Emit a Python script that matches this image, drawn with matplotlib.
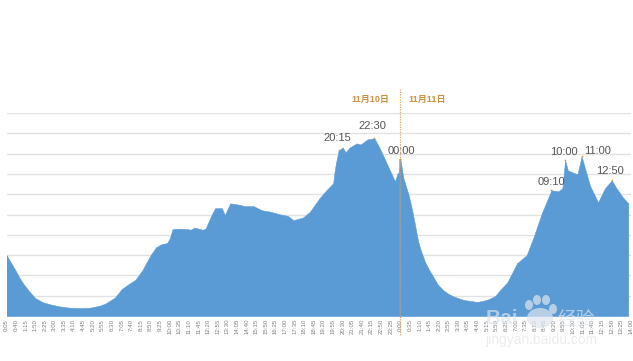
import matplotlib
matplotlib.use('Agg')
import matplotlib.pyplot as plt
from matplotlib.patches import Ellipse
import numpy as np

plt.rcParams['font.family'] = ['Liberation Sans', 'Noto Sans CJK SC', 'DejaVu Sans']

# minutes counted from 00:00 on 11/10
minutes = [5, 20, 35, 55, 70, 90, 110, 135, 165, 200, 235, 275, 310, 345, 365, 400, 425, 450, 475, 500,
           530, 550, 570, 590, 600, 610, 630, 665, 675, 690, 720, 730, 755, 765, 790, 800, 820, 845, 875, 905,
           935, 965, 1000, 1030, 1050, 1085, 1110, 1145, 1170, 1195, 1200, 1205, 1215, 1230, 1240, 1255, 1280,
           1295, 1320, 1345, 1365, 1390, 1420, 1430, 1435, 1440, 1450, 1470, 1485, 1505, 1515, 1530, 1545, 1560,
           1575, 1595, 1610, 1630, 1670, 1720, 1755, 1785, 1800, 1830, 1865, 1900, 1925, 1955, 1990, 2015, 2030,
           2040, 2050, 2085, 2100, 2130, 2160, 2185, 2210, 2225, 2250, 2270]
values = [3.00, 2.65, 2.31, 1.82, 1.52, 1.18, 0.88, 0.69, 0.57, 0.47, 0.41, 0.39, 0.41, 0.51, 0.61, 0.91, 1.33, 1.57, 1.79, 2.26,
          3.00, 3.39, 3.54, 3.59, 3.83, 4.28, 4.30, 4.28, 4.25, 4.35, 4.25, 4.30, 5.06, 5.31, 5.31, 4.96, 5.55, 5.50, 5.41, 5.41,
          5.21, 5.14, 5.01, 4.93, 4.72, 4.85, 5.13, 5.80, 6.19, 6.54, 7.08, 7.52, 8.16, 8.30, 8.06, 8.30, 8.50,
          8.45, 8.70, 8.75, 8.26, 7.52, 6.63, 7.03, 7.08, 7.71, 6.83, 5.95, 5.06, 3.64, 3.20, 2.65, 2.26, 1.92,
          1.57, 1.28, 1.13, 0.98, 0.79, 0.69, 0.79, 0.98, 1.23, 1.67, 2.60, 3.00, 3.88, 5.06, 6.19, 6.14, 6.29,
          7.67, 7.17, 6.98, 7.86, 6.44, 5.60, 6.29, 6.68, 6.34, 5.85, 5.55]

tick_labels = ['0:05', '0:40', '1:15', '1:50', '2:25', '3:00', '3:35', '4:10', '4:45', '5:20', '5:55',
               '6:30', '7:05', '7:40', '8:15', '8:50', '9:25', '10:00', '10:35', '11:10', '11:45',
               '12:20', '12:55', '13:30', '14:05', '14:40', '15:15', '15:50', '16:25', '17:00', '17:35',
               '18:10', '18:45', '19:20', '19:55', '20:30', '21:05', '21:40', '22:15', '22:50', '23:25',
               '0:00', '0:35', '1:10', '1:45', '2:20', '2:55', '3:30', '4:05', '4:40', '5:15', '5:50',
               '6:25', '7:00', '7:35', '8:10', '8:45', '9:20', '9:55', '10:30', '11:05', '11:40',
               '12:15', '12:50', '13:25', '14:00']

# peak labels: text, time, value
peak_names = ['20:15', '22:30', '00:00', '09:10', '10:00', '11:00', '12:50']
peak_minutes = [1215, 1345, 1440, 1990, 2040, 2100, 2210]
peak_values = [8.16, 8.75, 7.71, 6.19, 7.67, 7.86, 6.68]
peak_shift_x = [-1, -2, 1, 0, -1, 16, -2]
peak_shift_y = [7, 7, 3, 3, 3, 0, 4]

W, H = 633, 361
fig = plt.figure(figsize=(W / 100, H / 100), dpi=100)
ax = fig.add_axes([6.5 / W, 1 - 316 / H, 624.5 / W, 203 / H])

ax.fill_between(minutes, values, 0, color='#5b9bd5', lw=0.4, zorder=2)

ax.set_xlim(5, 2280)
ax.set_ylim(0, 10)
ax.set_yticks(range(0, 11))
ax.tick_params(axis='y', left=False, labelleft=False)
ax.grid(axis='y', color='#e2e2e2', lw=1, zorder=1)
ax.set_axisbelow(True)
for s in ax.spines.values():
    s.set_visible(False)

ax.set_xticks(np.arange(5, 2281, 35))
ax.set_xticklabels(tick_labels, rotation=90, fontsize=4.4, color='#808080')
ax.tick_params(axis='x', length=0, pad=2)

# midnight divider runs above and below the plot
ax.plot([1440, 1440], [-0.95, 11.2], color='#d9a860', lw=0.9, ls=(0, (1, 1)), clip_on=False, zorder=3)
ax.plot([1440, 1440], [0, 7.7], color='#8c9aa8', lw=1.2, alpha=0.8, zorder=3)

ax.text(1329, 10.65, '11月10日', color='#c9943f', fontsize=6.5, fontweight='bold', ha='center', va='center')
ax.text(1537, 10.65, '11月11日', color='#c9943f', fontsize=6.5, fontweight='bold', ha='center', va='center')

ax.scatter(peak_minutes, peak_values, s=1.5, color='#c9943f', zorder=4, linewidths=0)
for name, t, v, dx, dy in zip(peak_names, peak_minutes, peak_values, peak_shift_x, peak_shift_y):
    ax.annotate(name, (t, v), xytext=(dx, dy), textcoords='offset pixels', ha='center', va='bottom',
                fontsize=8, color='#555555', annotation_clip=False, zorder=5)

# watermark
wm = fig.add_axes([0, 0, 1, 1], facecolor='none')
wm.set_xlim(0, W)
wm.set_ylim(H, 0)
wm.axis('off')
wm_col = '#dfe6ee'
for cx, cy, rx, ry in [(529, 305, 4, 5), (537, 300, 4, 5), (546, 300, 4, 5), (553, 309, 4, 5), (540, 318, 13, 10)]:
    wm.add_patch(Ellipse((cx, cy), rx * 2, ry * 2, color=wm_col, alpha=0.7, lw=0))
wm.text(486, 319, 'Bai', fontsize=15, fontweight='bold', color=wm_col, alpha=0.65, va='center')
wm.text(557, 320, '经验', fontsize=13.5, color=wm_col, alpha=0.7, va='center')
wm.text(485, 340, 'jingyan.baidu.com', fontsize=10, color='#ececec', va='center')

fig.savefig('out.png', dpi=100)
